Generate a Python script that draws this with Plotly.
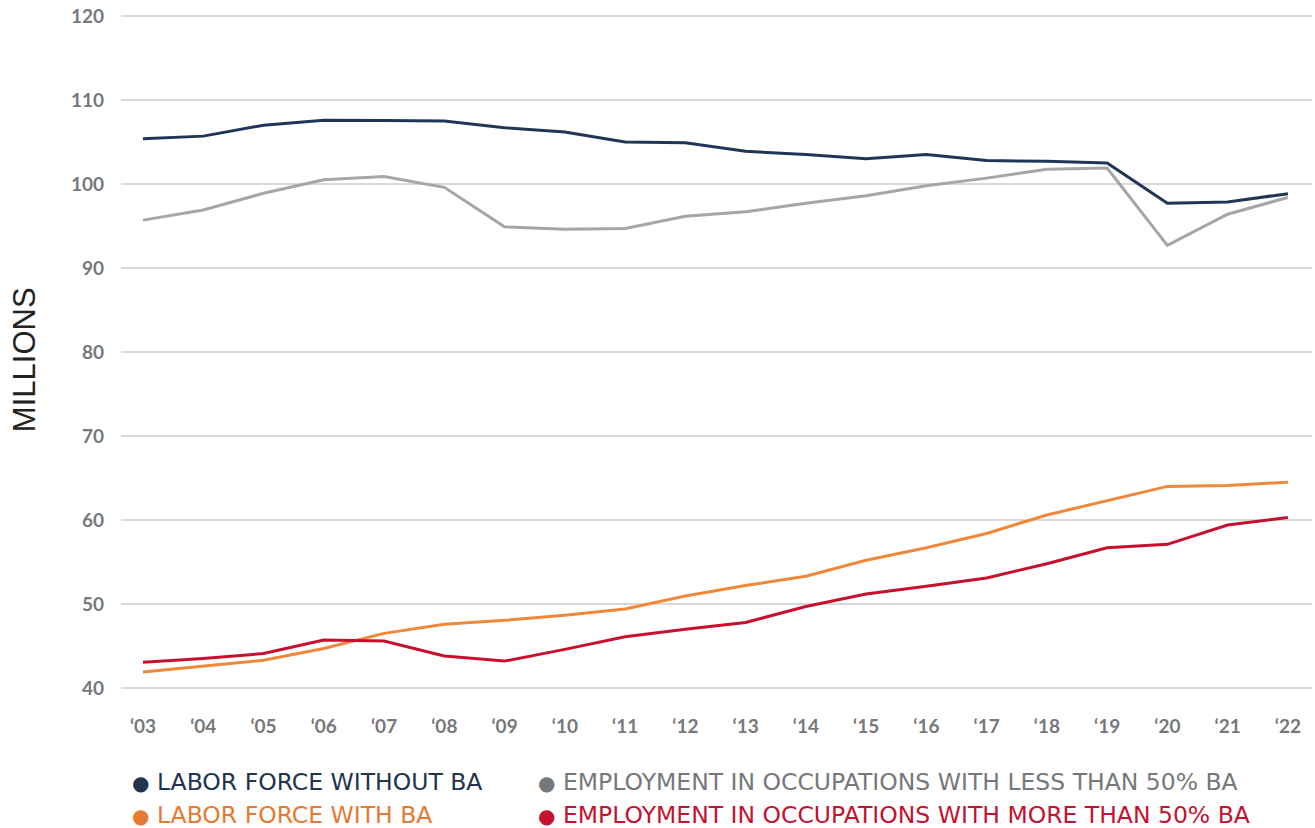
import plotly.graph_objects as go

# --- data (millions) ---
years = ["‘03", "‘04", "‘05", "‘06", "‘07", "‘08", "‘09", "‘10", "‘11", "‘12",
         "‘13", "‘14", "‘15", "‘16", "‘17", "‘18", "‘19", "‘20", "‘21", "‘22"]

lf_without_ba = [105.4, 105.7, 107.0, 107.6, 107.55, 107.5, 106.7, 106.2, 105.0, 104.9,
                 103.9, 103.5, 103.0, 103.5, 102.8, 102.7, 102.5, 97.7, 97.85, 98.85]
emp_less_50 = [95.7, 96.9, 98.9, 100.5, 100.9, 99.6, 94.9, 94.6, 94.7, 96.15,
               96.7, 97.7, 98.6, 99.8, 100.7, 101.75, 101.9, 92.7, 96.4, 98.4]
lf_with_ba = [41.9, 42.6, 43.3, 44.7, 46.5, 47.6, 48.05, 48.65, 49.4, 50.95,
              52.2, 53.3, 55.2, 56.7, 58.4, 60.6, 62.3, 64.0, 64.1, 64.5]
emp_more_50 = [43.05, 43.5, 44.1, 45.7, 45.6, 43.8, 43.2, 44.6, 46.1, 47.0,
               47.8, 49.7, 51.2, 52.1, 53.1, 54.8, 56.7, 57.1, 59.4, 60.3]

series = [
    ("LABOR FORCE WITHOUT BA", lf_without_ba, "#213656", "#22344f"),
    ("EMPLOYMENT IN OCCUPATIONS WITH LESS THAN 50% BA", emp_less_50, "#a6a6a6", "#77787b"),
    ("LABOR FORCE WITH BA", lf_with_ba, "#f0883a", "#e57a30"),
    ("EMPLOYMENT IN OCCUPATIONS WITH MORE THAN 50% BA", emp_more_50, "#c8102e", "#c41230"),
]

fig = go.Figure()

for name, vals, line_col, _ in series:
    fig.add_trace(go.Scatter(
        x=years, y=vals, name=name, mode="lines",
        line=dict(color=line_col, width=3),
        showlegend=False,
    ))

# legend drawn as coloured text, two rows
legend_pos = [(0.0076, -0.1384), (0.3484, -0.1384), (0.0076, -0.1875), (0.3484, -0.1875)]
for (name, _, _, txt_col), (lx, ly) in zip(series, legend_pos):
    fig.add_annotation(
        text="<span style='font-size:20px'>●</span> " + name,
        x=lx, y=ly, xref="paper", yref="paper",
        xanchor="left", yanchor="middle", showarrow=False,
        font=dict(family="DejaVu Sans", size=23.5, color=txt_col),
    )

# y title
fig.add_annotation(
    text="MILLIONS", x=-0.0814, y=0.488, xref="paper", yref="paper",
    textangle=-90, showarrow=False, xanchor="center", yanchor="middle",
    font=dict(family="Liberation Sans", size=31, color="#222222"),
)

fig.update_layout(
    width=1315, height=828,
    margin=dict(l=121, r=3, t=15, b=139, autoexpand=False),
    plot_bgcolor="white", paper_bgcolor="white",
    xaxis=dict(
        type="category", range=[-0.365, 19.4],
        showgrid=False, zeroline=False, showline=False,
        tickfont=dict(family="Lato", size=19, color="#77787b", weight="bold"),
        ticklabelstandoff=24, automargin=False,
    ),
    yaxis=dict(
        range=[39.88, 120.12], tickvals=[40, 50, 60, 70, 80, 90, 100, 110, 120],
        gridcolor="#d9d9d9", gridwidth=2,
        zeroline=False, showline=False,
        tickfont=dict(family="Lato", size=19, color="#77787b", weight="bold"),
        ticklabelstandoff=16, ticklabeloverflow="allow", automargin=False,
    ),
)

# drop the default page margin so the figure fills the window
fig.write_html("out.html", config={"displayModeBar": False},
               post_script="document.body.style.margin = '0';")
